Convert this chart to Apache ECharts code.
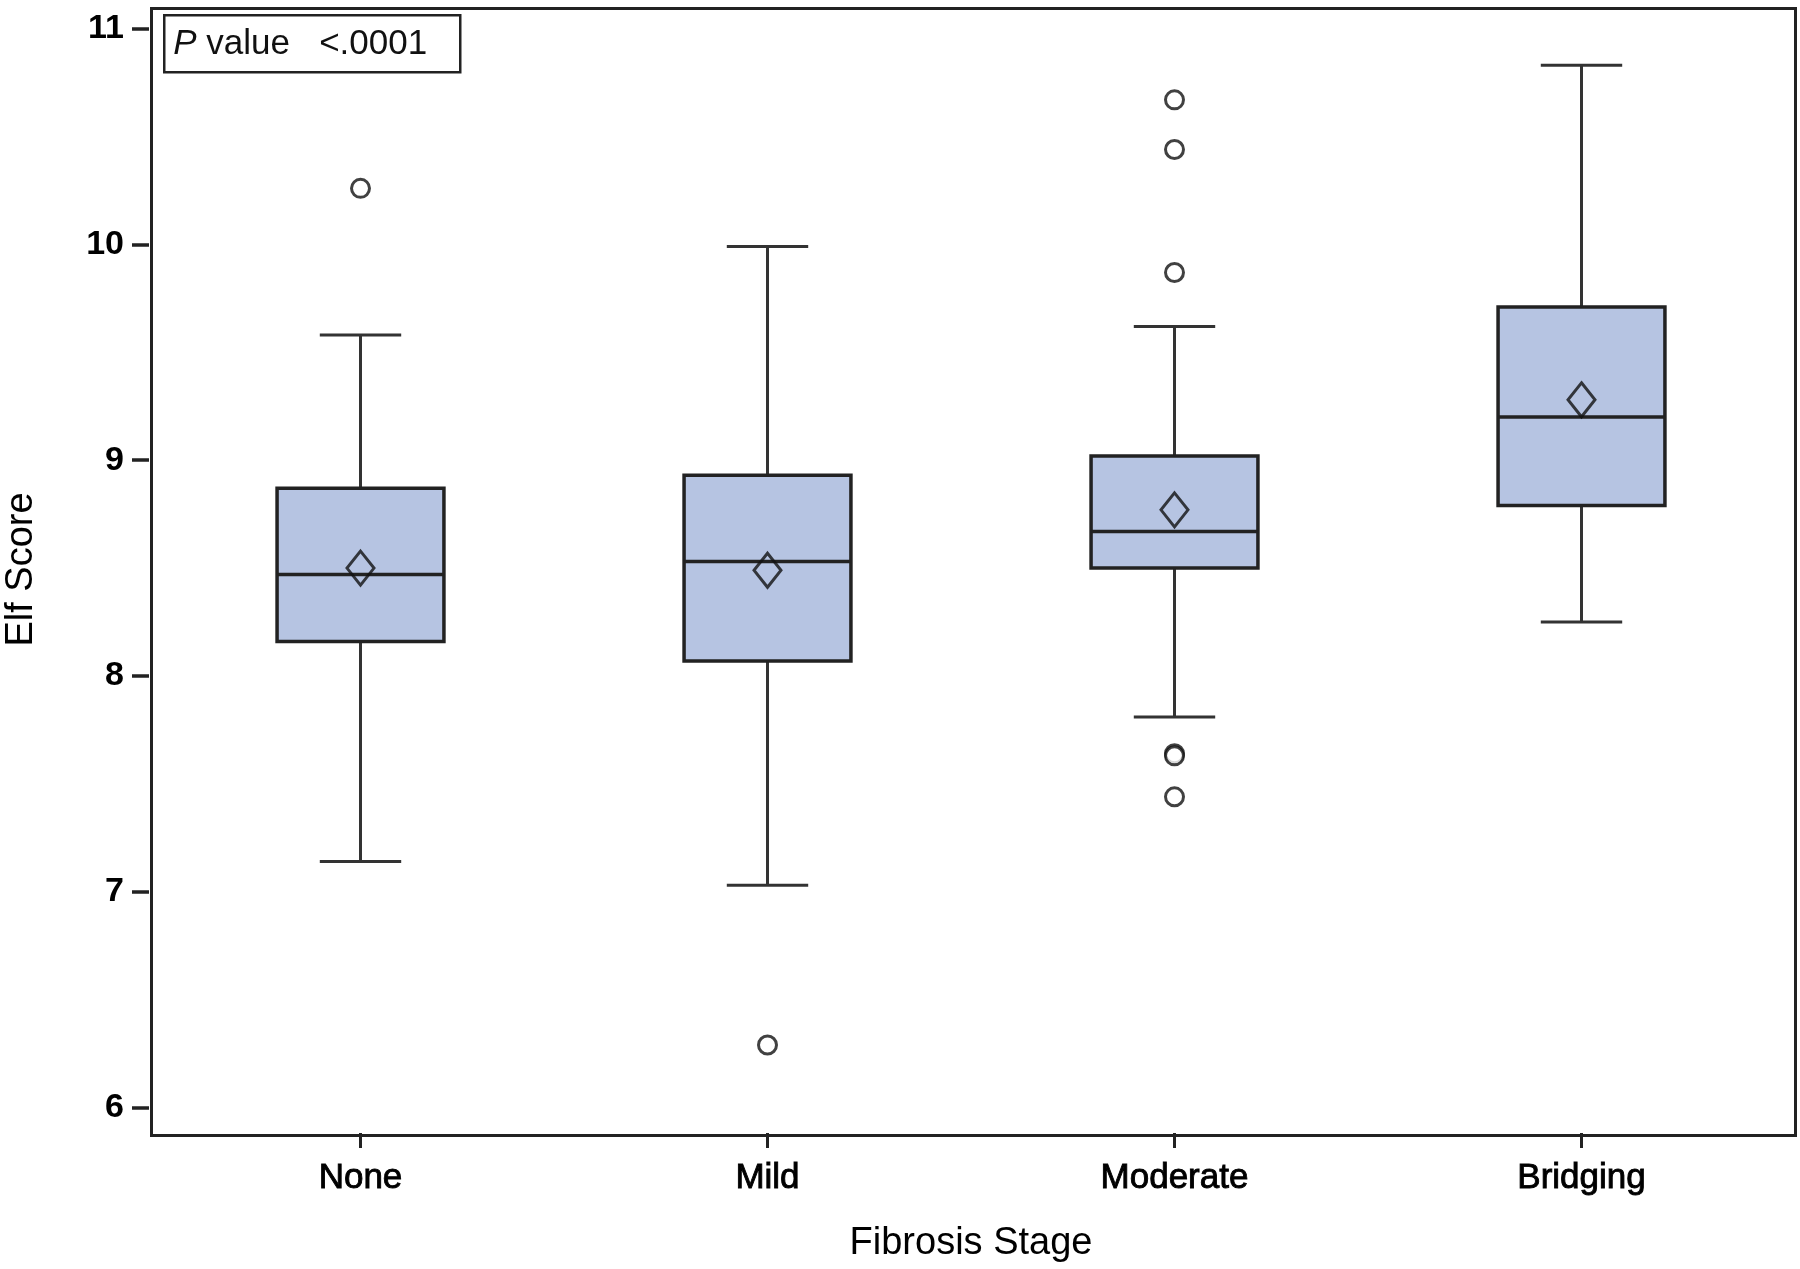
<!DOCTYPE html>
<html>
<head>
<meta charset="utf-8">
<script src="https://cdn.jsdelivr.net/npm/echarts@6/dist/echarts.min.js"></script>
<style>
  html, body { margin: 0; padding: 0; background: #fff; }
  #main { width: 1800px; height: 1269px; }
</style>
</head>
<body>
<div id="main"></div>
<script>
// box statistics per fibrosis stage
var categories = ['None', 'Mild', 'Moderate', 'Bridging'];
var whiskerLow = [7.14, 7.03, 7.81, 8.25];
var q1 = [8.16, 8.07, 8.50, 8.79];
var median = [8.47, 8.53, 8.67, 9.20];
var q3 = [8.87, 8.93, 9.02, 9.71];
var whiskerHigh = [9.58, 9.99, 9.62, 10.83];
var means = [8.50, 8.49, 8.77, 9.28];
// [category index, value]
var outliers = [[0, 10.26], [1, 6.29], [2, 10.67], [2, 10.44], [2, 9.87], [2, 7.64], [2, 7.63], [2, 7.44]];
var yTicks = [6, 7, 8, 9, 10, 11];

var font = "'Liberation Sans', Arial, sans-serif";
var ink = '#222';

var boxData = categories.map(function (c, i) {
  return [i, whiskerLow[i], q1[i], median[i], q3[i], whiskerHigh[i]];
});

function renderBox(params, api) {
  var x = api.value(0);
  var pLow = api.coord([x, api.value(1)]);
  var pQ1 = api.coord([x, api.value(2)]);
  var pMed = api.coord([x, api.value(3)]);
  var pQ3 = api.coord([x, api.value(4)]);
  var pHigh = api.coord([x, api.value(5)]);
  var band = api.size([1, 0])[0];
  var hw = band * 0.205;
  var cw = band * 0.1;
  var cx = pMed[0];
  var lineStyle = { stroke: '#333', lineWidth: 3 };
  return {
    type: 'group',
    children: [
      { type: 'line', shape: { x1: cx, y1: pHigh[1], x2: cx, y2: pQ3[1] }, style: lineStyle },
      { type: 'line', shape: { x1: cx, y1: pQ1[1], x2: cx, y2: pLow[1] }, style: lineStyle },
      { type: 'line', shape: { x1: cx - cw, y1: pHigh[1], x2: cx + cw, y2: pHigh[1] }, style: lineStyle },
      { type: 'line', shape: { x1: cx - cw, y1: pLow[1], x2: cx + cw, y2: pLow[1] }, style: lineStyle },
      { type: 'rect', shape: { x: cx - hw, y: pQ3[1], width: hw * 2, height: pQ1[1] - pQ3[1] },
        style: { fill: '#b6c4e2', stroke: ink, lineWidth: 3.5 } },
      { type: 'line', shape: { x1: cx - hw, y1: pMed[1], x2: cx + hw, y2: pMed[1] },
        style: { stroke: ink, lineWidth: 3.5 } }
    ]
  };
}

var chart = echarts.init(document.getElementById('main'));
chart.setOption({
  backgroundColor: '#fff',
  animation: false,
  grid: { left: 157, right: 15, top: 6, bottom: 136, outerBoundsMode: 'none', containLabel: false },
  xAxis: {
    type: 'category',
    data: categories,
    boundaryGap: true,
    name: 'Fibrosis Stage',
    nameLocation: 'middle',
    nameGap: 92,
    nameTextStyle: { fontFamily: font, fontSize: 38, color: '#000' },
    axisLine: { show: false },
    axisTick: { show: true, alignWithLabel: true, length: 15, lineStyle: { color: ink, width: 3 } },
    axisLabel: { margin: 28, fontFamily: font, fontSize: 35, color: '#000',
      textBorderColor: '#000', textBorderWidth: 0.9 },
    splitLine: { show: false }
  },
  yAxis: {
    type: 'value',
    min: 5.882,
    max: 11.105,
    offset: 8,
    name: 'Elf Score',
    nameLocation: 'middle',
    nameGap: 108,
    nameTextStyle: { fontFamily: font, fontSize: 38, color: '#000' },
    axisLine: { show: false },
    axisTick: { show: true, length: 17, customValues: yTicks, lineStyle: { color: ink, width: 3.5 } },
    axisLabel: { margin: 25, fontFamily: font, fontSize: 34, fontWeight: 'bold', color: '#000', customValues: yTicks },
    splitLine: { show: false }
  },
  graphic: [
    { type: 'rect', left: 149, top: 6, shape: { width: 1644, height: 1127 },
      style: { fill: 'none', stroke: ink, lineWidth: 3 }, z: 100, silent: true },
    { type: 'group', left: 163, top: 14, z: 100, children: [
      { type: 'rect', shape: { x: 0, y: 0, width: 296, height: 57 },
        style: { fill: '#fff', stroke: ink, lineWidth: 2.5 } },
      { type: 'text', x: 9, y: 29, style: {
        text: '{i|P} value   <.0001', fontFamily: font, fontSize: 35, fill: '#111', verticalAlign: 'middle',
        rich: { i: { fontStyle: 'italic', fontFamily: font, fontSize: 35, fill: '#111' } } } }
    ] }
  ],
  series: [
    {
      type: 'custom',
      renderItem: renderBox,
      data: boxData,
      encode: { x: 0, y: [1, 2, 3, 4, 5] },
      z: 2
    },
    {
      type: 'scatter',
      data: categories.map(function (c, i) { return [i, means[i]]; }),
      symbol: 'diamond',
      symbolSize: [27, 34],
      itemStyle: { color: 'rgba(0,0,0,0)', borderColor: '#111', borderWidth: 3 },
      z: 3
    },
    {
      type: 'scatter',
      data: outliers,
      symbol: 'circle',
      symbolSize: 18,
      itemStyle: { color: '#fff', borderColor: '#111', borderWidth: 3 },
      z: 3
    }
  ]
});
</script>
</body>
</html>
